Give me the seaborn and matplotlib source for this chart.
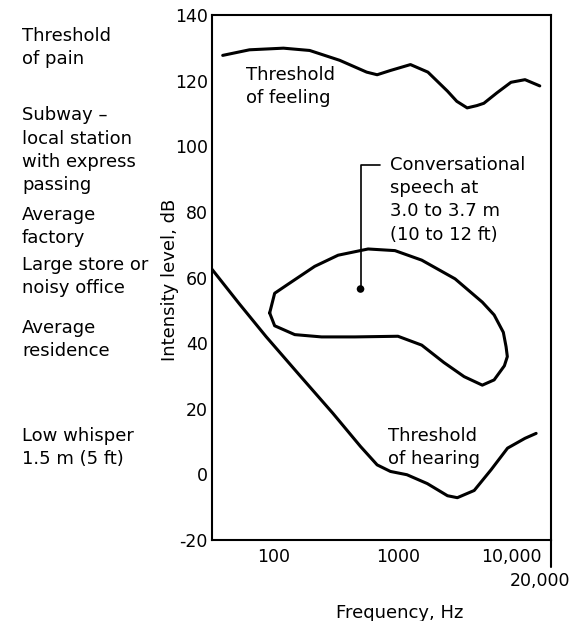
import matplotlib
matplotlib.use("Agg")
import matplotlib.pyplot as plt
from matplotlib.ticker import NullLocator
from matplotlib.transforms import blended_transform_factory, ScaledTranslation
import seaborn as sns

# ---- data ----
feeling_hz = [39, 64, 120, 195, 340, 560, 680, 870, 1260, 1740, 2500, 2970, 3600, 4310, 4900, 6250, 8100, 10500, 13800]
feeling_db = [127.7, 129.4, 129.9, 129.2, 126.2, 122.6, 121.8, 123.1, 124.9, 122.6, 116.8, 113.7, 111.7, 112.4, 113.1, 116.3, 119.5, 120.3, 118.4]

hearing_hz = [32, 53, 87, 162, 300, 500, 680, 870, 1180, 1720, 2500, 3000, 4100, 5600, 7600, 10500, 12900]
hearing_db = [62.5, 52, 42, 30.2, 18.6, 8.5, 2.9, 0.9, -0.1, -2.8, -6.5, -7.1, -4.9, 1.4, 8.0, 11.0, 12.5]

speech_hz = [93, 102, 130, 214, 330, 575, 946, 1552, 2877, 4764, 5929, 7030, 7396, 7570, 7167,
             5929, 4764, 3400, 2339, 1552, 1000, 450, 243, 148, 102, 93]
speech_db = [49.2, 55.2, 57.9, 63.4, 66.8, 68.7, 68.2, 65.3, 59.6, 52.5, 48.6, 43.3, 38.9, 35.9, 33.1,
             28.8, 27.2, 29.8, 34.1, 39.4, 42.1, 41.9, 41.9, 42.6, 45.3, 49.2]

speech_center_hz = [500]
speech_center_db = [56.5]

yticks = [-20, 0, 20, 40, 60, 80, 100, 120, 140]
ytick_labels = ["-20", "0", "20", "40", "60", "80", "100", "120", "140"]
xticks = [100, 1000, 10000]
xtick_labels = ["100", "1000", "10,000"]

left_labels = ["Threshold\nof pain", "Subway –\nlocal station\nwith express\npassing",
               "Average\nfactory", "Large store or\nnoisy office", "Average\nresidence",
               "Low whisper\n1.5 m (5 ft)"]
left_levels = [130.2, 98.8, 75.6, 60.2, 41.0, 8.3]

# ---- figure ----
sns.set_theme(style="white")
plt.rcParams['font.family'] = ['DejaVu Sans']
plt.rcParams['text.color'] = 'black'

fig = plt.figure(figsize=(5.82, 6.21), dpi=100)
ax = fig.add_axes([0.3643, 0.1304, 0.5825, 0.8454])

lw = 2.2
sns.lineplot(x=feeling_hz, y=feeling_db, ax=ax, color='black', lw=lw, sort=False, estimator=None)
sns.lineplot(x=hearing_hz, y=hearing_db, ax=ax, color='black', lw=lw, sort=False, estimator=None)
sns.lineplot(x=speech_hz, y=speech_db, ax=ax, color='black', lw=lw, sort=False, estimator=None)
sns.scatterplot(x=speech_center_hz, y=speech_center_db, ax=ax, color='black', s=30, edgecolor='none', zorder=5)

ax.set_xscale('log')
ax.set_xlim(32, 17000)
ax.set_ylim(-20, 140)
ax.set_yticks(yticks)
ax.set_yticklabels(ytick_labels)
ax.set_xticks(xticks)
ax.set_xticklabels(xtick_labels)
ax.xaxis.set_minor_locator(NullLocator())
ax.tick_params(axis='both', direction='in', length=6, width=1.3, color='black', labelcolor='black',
               labelsize=12.5)
ax.tick_params(axis='y', pad=3)
ax.tick_params(axis='x', pad=6)
for lab in ax.get_xticklabels():
    if lab.get_text() == "10,000":
        lab.set_transform(lab.get_transform() + ScaledTranslation(-0.11, 0, fig.dpi_scale_trans))
ax.set_xlabel("")
ax.set_ylabel("")
for sp in ax.spines.values():
    sp.set_visible(True)
    sp.set_color('black')
    sp.set_linewidth(1.5)

# extended right-edge tick and its label
ax.plot([1, 1], [0, -0.052], transform=ax.transAxes, color='black', lw=1.5, clip_on=False)
fig.text(570 / 582, 1 - 581.5 / 621, "20,000", ha='right', va='center', fontsize=12.5)

# axis titles
fig.text(400 / 582, 1 - 613 / 621, "Frequency, Hz", ha='center', va='center', fontsize=13)
fig.text(170 / 582, 1 - 280 / 621, "Intensity level, dB", rotation=90, ha='center', va='center', fontsize=13)

# in-plot annotations
ls = 1.37
ax.text(60.5, 124.5, "Threshold\nof feeling", ha='left', va='top', fontsize=13, linespacing=ls)
ax.text(830, 14.4, "Threshold\nof hearing", ha='left', va='top', fontsize=13, linespacing=ls)
ax.text(861, 97.0, "Conversational\nspeech at\n3.0 to 3.7 m\n(10 to 12 ft)", ha='left', va='top',
        fontsize=13, linespacing=ls)
ax.plot([500, 500, 716], [56.5, 94.2, 94.2], color='black', lw=1.2)

# left-hand reference levels
trans = blended_transform_factory(fig.transFigure, ax.transData)
for txt, lev in zip(left_labels, left_levels):
    ax.text(22 / 582, lev, txt, transform=trans, ha='left', va='center', fontsize=13,
            linespacing=ls, clip_on=False)

fig.savefig("out.png", dpi=100)
